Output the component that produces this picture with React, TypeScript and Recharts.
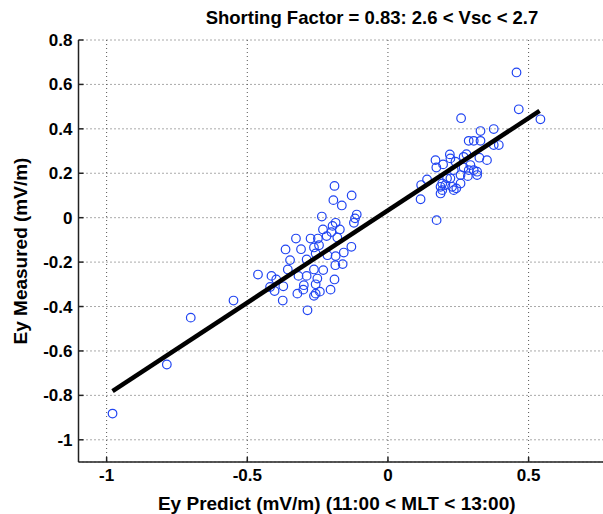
import { ScatterChart, Scatter, XAxis, YAxis, CartesianGrid, Label } from 'recharts';

const X_TICKS = [-1, -0.5, 0, 0.5];
const Y_TICKS = [-1, -0.8, -0.6, -0.4, -0.2, 0, 0.2, 0.4, 0.6, 0.8];

// Ey predicted (x) vs Ey measured (y), mV/m
const PREDICT = [
  -0.190, -0.129, -0.194, -0.164, -0.111, -0.117, -0.121, -0.235, -0.186, -0.197,
  -0.171, -0.231, -0.201, -0.327, -0.275, -0.249, -0.218, -0.180, -0.364, -0.309,
  -0.263, -0.245, -0.130, -0.157, -0.348, -0.289, -0.257, -0.215, -0.186, -0.161,
  -0.187, -0.356, -0.318, -0.263, -0.230, -0.251, -0.289, -0.462, -0.414, -0.397,
  -0.419, -0.372, -0.299, -0.257, -0.190, -0.403, -0.301, -0.204, -0.242, -0.322,
  -0.263, -0.257, -0.549, -0.374, -0.286, -0.701, -0.786, -0.979,
  0.457, 0.465, 0.542, 0.260, 0.329, 0.376, 0.287, 0.305, 0.329, 0.376,
  0.394, 0.279, 0.269, 0.325, 0.352, 0.220, 0.222, 0.169, 0.196, 0.240,
  0.172, 0.293, 0.305, 0.287, 0.317, 0.269, 0.234, 0.258, 0.222, 0.210,
  0.284, 0.317, 0.139, 0.118, 0.193, 0.187, 0.204, 0.228, 0.258, 0.234,
  0.243, 0.187, 0.193, 0.116, 0.173,
];
const MEASURED = [
  0.143, 0.100, 0.079, 0.055, 0.014, -0.003, -0.023, 0.005, -0.023, -0.037,
  -0.053, -0.053, -0.065, -0.094, -0.094, -0.094, -0.083, -0.089, -0.143, -0.142,
  -0.134, -0.124, -0.131, -0.157, -0.191, -0.188, -0.161, -0.169, -0.173, -0.209,
  -0.214, -0.233, -0.262, -0.233, -0.236, -0.274, -0.262, -0.256, -0.262, -0.278,
  -0.312, -0.309, -0.304, -0.300, -0.278, -0.330, -0.324, -0.324, -0.333, -0.342,
  -0.352, -0.342, -0.373, -0.373, -0.417, -0.450, -0.661, -0.882,
  0.654, 0.488, 0.443, 0.448, 0.390, 0.399, 0.346, 0.346, 0.346, 0.327,
  0.327, 0.286, 0.274, 0.270, 0.259, 0.285, 0.267, 0.259, 0.240, 0.252,
  0.226, 0.237, 0.214, 0.214, 0.207, 0.226, 0.214, 0.192, 0.177, 0.177,
  0.187, 0.192, 0.172, 0.147, 0.154, 0.139, 0.147, 0.139, 0.154, 0.124,
  0.132, 0.109, 0.124, 0.083, -0.011,
];

// least-squares fit endpoints (slope 0.83)
const FIT_X = [-0.979, 0.539];
const FIT_Y = [-0.781, 0.481];

const points = PREDICT.map((x, i) => ({ x, y: MEASURED[i] }));
const fit = FIT_X.map((x, i) => ({ x, y: FIT_Y[i] }));

const FONT = '"Liberation Sans", Arial, sans-serif';
const fmt = (v: number) => String(Number(v.toFixed(2)));

const Ring = (props: any) => (
  <circle cx={props.cx} cy={props.cy} r={4.3} fill="none" stroke="#2145f2" strokeWidth={1.2} />
);

export default function App() {
  return (
    <div style={{ position: 'absolute', left: 0, top: 0, width: 603, height: 514, overflow: 'hidden', background: '#fff' }}>
      <div style={{ position: 'absolute', left: 0, top: 7, width: 603, textAlign: 'center', paddingLeft: 141, boxSizing: 'border-box', fontFamily: FONT, fontWeight: 'bold', fontSize: 18.5 }}>
        Shorting Factor = 0.83: 2.6 &lt; Vsc &lt; 2.7
      </div>
      <ScatterChart width={640} height={514} margin={{ top: 40, right: 27, bottom: 0, left: 0 }}>
        <CartesianGrid stroke="#555" strokeDasharray="1 3" />
        <XAxis
          type="number"
          dataKey="x"
          domain={[-1.1, 0.8]}
          ticks={X_TICKS}
          allowDataOverflow
          height={52}
          stroke="#222"
          strokeWidth={1.5}
          tickSize={-5}
          tickMargin={12}
          tickFormatter={fmt}
          tick={{ fill: '#000', fontSize: 17, fontWeight: 'bold', fontFamily: FONT }}
        >
          <Label value="Ey Predict (mV/m) (11:00 < MLT < 13:00)" position="insideBottom" offset={4} dx={-9} style={{ fill: '#000', fontSize: 19, fontWeight: 'bold', fontFamily: FONT }} />
        </XAxis>
        <XAxis
          xAxisId="top"
          orientation="top"
          type="number"
          dataKey="x"
          domain={[-1.1, 0.8]}
          ticks={X_TICKS}
          allowDataOverflow
          height={0}
          stroke="#222"
          strokeWidth={1.5}
          tickSize={-5}
          tick={false}
        />
        <YAxis
          type="number"
          dataKey="y"
          domain={[-1.1, 0.8]}
          ticks={Y_TICKS}
          allowDataOverflow
          width={78.5}
          stroke="#222"
          strokeWidth={1.5}
          tickSize={-5}
          tickMargin={11}
          tickFormatter={fmt}
          tick={{ fill: '#000', fontSize: 17, fontWeight: 'bold', fontFamily: FONT }}
        >
          <Label value="Ey Measured (mV/m)" angle={-90} position="insideLeft" offset={20} style={{ textAnchor: 'middle', fill: '#000', fontSize: 19, fontWeight: 'bold', fontFamily: FONT }} />
        </YAxis>
        <Scatter data={points} shape={Ring} isAnimationActive={false} />
        <Scatter data={fit} line={{ stroke: '#000', strokeWidth: 4.5 }} shape={() => <g />} isAnimationActive={false} />
      </ScatterChart>
    </div>
  );
}
